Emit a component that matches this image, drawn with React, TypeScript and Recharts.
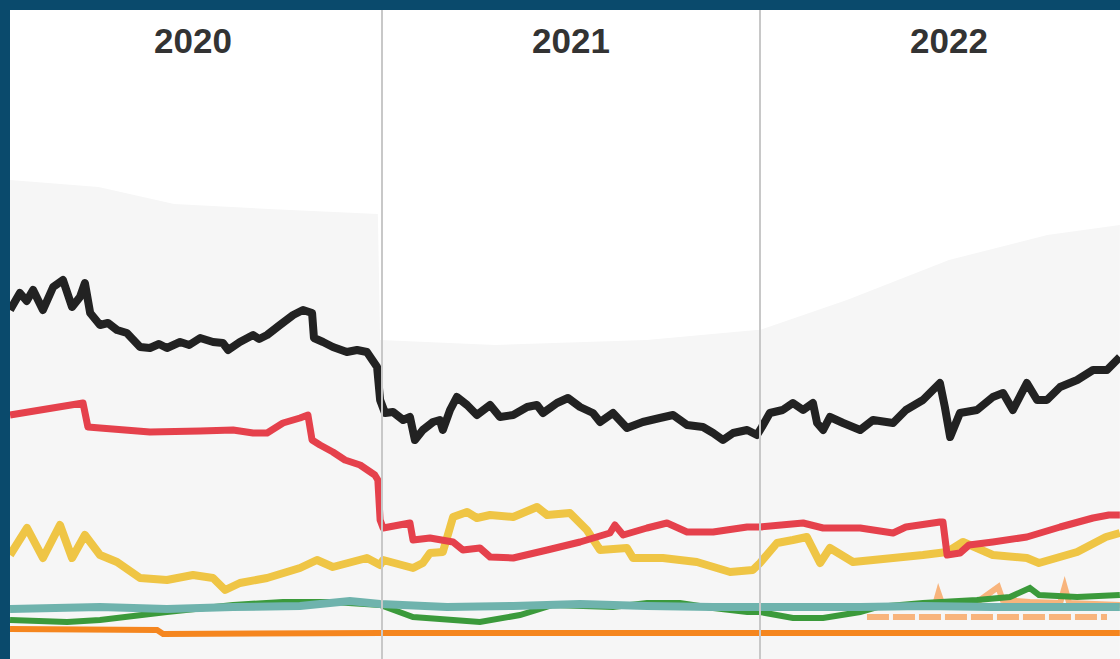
import { Area, ComposedChart, Line, ReferenceArea, ReferenceLine, XAxis, YAxis } from 'recharts';

// [decimal year, index value]
const blackSeries: [number, number][] = [
  [2020.016, 34.9], [2020.042, 36.6], [2020.06, 35.8], [2020.077, 36.9], [2020.103, 34.9], [2020.13, 37.2], [2020.156, 37.9],
  [2020.18, 35.2], [2020.201, 36.2], [2020.214, 37.6], [2020.228, 34.6], [2020.254, 33.4], [2020.275, 33.6], [2020.299, 32.9],
  [2020.325, 32.6], [2020.36, 31.2], [2020.386, 31.1], [2020.41, 31.5], [2020.431, 31.1], [2020.466, 31.7], [2020.49, 31.4], [2020.519, 32.1],
  [2020.553, 31.7], [2020.579, 31.6], [2020.593, 30.9], [2020.624, 31.7], [2020.659, 32.4], [2020.675, 32.0], [2020.696, 32.4],
  [2020.73, 33.4], [2020.765, 34.4], [2020.791, 34.9], [2020.815, 34.6], [2020.82, 32.1], [2020.844, 31.7],
  [2020.87, 31.2], [2020.907, 30.7], [2020.934, 30.9], [2020.96, 30.7], [2020.987, 29.2], [2020.995, 25.9],
  [2021.008, 24.6], [2021.029, 24.7], [2021.056, 23.9], [2021.074, 24.2], [2021.087, 21.9], [2021.108, 22.9],
  [2021.135, 23.7], [2021.153, 23.9], [2021.161, 22.9], [2021.18, 24.9], [2021.198, 26.2], [2021.225, 25.4],
  [2021.251, 24.4], [2021.286, 25.4], [2021.312, 24.2], [2021.347, 24.4], [2021.384, 25.2], [2021.41, 25.4],
  [2021.426, 24.6], [2021.463, 25.6], [2021.492, 26.1], [2021.524, 25.2], [2021.558, 24.6], [2021.577, 23.7],
  [2021.611, 24.6], [2021.648, 23.1], [2021.69, 23.7], [2021.735, 24.1], [2021.77, 24.4], [2021.807, 23.4],
  [2021.849, 23.2], [2021.876, 22.6], [2021.902, 21.9], [2021.929, 22.6], [2021.966, 22.9], [2021.992, 22.4],
  [2022.005, 23.2], [2022.026, 24.6], [2022.06, 24.9], [2022.087, 25.6], [2022.114, 24.9], [2022.14, 25.6], [2022.151, 23.6],
  [2022.167, 22.9], [2022.185, 24.2], [2022.22, 23.6], [2022.265, 22.9], [2022.299, 23.9], [2022.352, 23.6],
  [2022.386, 24.9], [2022.431, 25.9], [2022.476, 27.6], [2022.489, 25.2], [2022.503, 22.2], [2022.529, 24.6],
  [2022.574, 24.9], [2022.616, 26.2], [2022.643, 26.6], [2022.669, 24.9], [2022.706, 27.6], [2022.733, 25.9],
  [2022.759, 25.9], [2022.794, 27.2], [2022.839, 27.9], [2022.881, 28.9], [2022.918, 28.9], [2022.952, 30.2],
];

const redSeries: [number, number][] = [
  [2020.016, 24.4], [2020.209, 25.6], [2020.222, 23.2], [2020.254, 23.1], [2020.386, 22.7], [2020.519, 22.8],
  [2020.606, 22.9], [2020.659, 22.6], [2020.696, 22.6], [2020.738, 23.6], [2020.783, 24.1], [2020.804, 24.4],
  [2020.815, 21.9], [2020.836, 21.4], [2020.87, 20.7], [2020.902, 19.9], [2020.942, 19.4], [2020.981, 18.4],
  [2020.989, 17.9], [2020.995, 13.9], [2021.003, 13.1], [2021.074, 13.6], [2021.082, 11.9], [2021.127, 12.1],
  [2021.188, 11.7], [2021.214, 10.9], [2021.259, 11.1], [2021.286, 10.2], [2021.347, 10.1], [2021.437, 10.9],
  [2021.524, 11.7], [2021.603, 12.6], [2021.616, 13.4], [2021.638, 12.4], [2021.701, 13.1], [2021.754, 13.6],
  [2021.807, 12.7], [2021.876, 12.7], [2021.966, 13.2], [2022.0, 13.2], [2022.114, 13.6], [2022.167, 13.1],
  [2022.265, 13.1], [2022.352, 12.6], [2022.386, 13.2], [2022.476, 13.7], [2022.484, 13.7], [2022.495, 10.4],
  [2022.529, 10.6], [2022.553, 11.4], [2022.616, 11.7], [2022.706, 12.2], [2022.794, 13.2], [2022.881, 14.1],
  [2022.923, 14.4], [2022.952, 14.4],
];

const yellowSeries: [number, number][] = [
  [2020.016, 10.4], [2020.061, 13.1], [2020.103, 10.1], [2020.148, 13.4], [2020.18, 10.1], [2020.214, 12.4],
  [2020.254, 10.4], [2020.299, 9.7], [2020.36, 8.1], [2020.431, 7.9], [2020.5, 8.4], [2020.553, 8.1],
  [2020.585, 6.9], [2020.624, 7.6], [2020.696, 8.1], [2020.783, 9.1], [2020.828, 9.9], [2020.87, 9.2],
  [2020.96, 10.1], [2020.995, 9.4], [2021.003, 9.9], [2021.082, 9.1], [2021.108, 9.6], [2021.127, 10.6],
  [2021.161, 10.7], [2021.188, 14.2], [2021.225, 14.7], [2021.251, 14.1], [2021.286, 14.4], [2021.347, 14.2],
  [2021.41, 15.2], [2021.437, 14.4], [2021.497, 14.6], [2021.542, 12.9], [2021.577, 10.9], [2021.648, 11.1],
  [2021.664, 10.1], [2021.743, 10.1], [2021.833, 9.7], [2021.921, 8.7], [2021.981, 8.9], [2022.0, 9.6],
  [2022.045, 11.6], [2022.087, 11.9], [2022.124, 12.2], [2022.159, 9.6], [2022.185, 11.1], [2022.246, 9.7],
  [2022.352, 10.1], [2022.431, 10.4], [2022.495, 10.7], [2022.537, 11.7], [2022.616, 10.4], [2022.706, 10.1],
  [2022.738, 9.6], [2022.839, 10.7], [2022.915, 12.2], [2022.952, 12.6],
];

const greenSeries: [number, number][] = [
  [2020.016, 3.9], [2020.167, 3.7], [2020.254, 3.9], [2020.431, 4.7], [2020.606, 5.4], [2020.738, 5.7],
  [2020.87, 5.7], [2020.995, 5.4], [2021.082, 4.2], [2021.259, 3.7], [2021.365, 4.4], [2021.452, 5.4],
  [2021.611, 5.2], [2021.701, 5.6], [2021.788, 5.6], [2021.876, 5.1], [2021.966, 4.7], [2022.0, 4.7],
  [2022.087, 4.1], [2022.167, 4.1], [2022.265, 4.7], [2022.31, 5.2], [2022.431, 5.6], [2022.574, 5.9],
  [2022.661, 6.2], [2022.714, 7.1], [2022.738, 6.4], [2022.839, 6.2], [2022.952, 6.4],
];

const tealSeries: [number, number][] = [
  [2020.016, 5.0], [2020.254, 5.2], [2020.431, 5.0], [2020.606, 5.2], [2020.783, 5.3], [2020.915, 5.8],
  [2020.995, 5.5], [2021.172, 5.2], [2021.347, 5.3], [2021.524, 5.5], [2021.701, 5.3], [2021.876, 5.2],
  [2022.053, 5.2], [2022.265, 5.2], [2022.431, 5.3], [2022.616, 5.2], [2022.794, 5.2], [2022.952, 5.2],
];

const orangeSeries: [number, number][] = [
  [2020.016, 3.0], [2020.405, 2.9], [2020.421, 2.5], [2021.0, 2.6], [2022.0, 2.6], [2022.952, 2.6],
];

const lightOrangeLow: [number, number][] = [
  [2022.283, 4.2], [2022.5, 4.2], [2022.7, 4.2], [2022.918, 4.2],
];

const lightOrangeHigh: [number, number][] = [
  [2022.37, 5.2], [2022.463, 5.4], [2022.472, 6.6], [2022.482, 5.5], [2022.571, 5.6], [2022.63, 7.2],
  [2022.642, 5.9], [2022.714, 5.7], [2022.794, 5.6], [2022.806, 7.2], [2022.818, 5.6], [2022.952, 5.4],
];

// upper edge of the grey range band
const bandTop: [number, number][] = [
  [2020.016, 47.9], [2020.25, 47.2], [2020.45, 45.5], [2020.7, 45.0], [2020.989, 44.5], [2020.995, 31.9],
  [2021.3, 31.4], [2021.7, 31.9], [2021.99, 32.9], [2022.0, 32.9], [2022.23, 35.9], [2022.5, 39.9],
  [2022.76, 42.4], [2022.952, 43.4],
];

const years = [2020, 2021, 2022];
const yearBreaks = [2021, 2022];

const rows = (pts: [number, number][]) => pts.map(([t, v]) => ({ t, v }));

const BORDER = '#0a4a6c';

export default function App() {
  return (
    <div style={{ position: 'absolute', left: 0, top: 0, width: 1120, height: 659, overflow: 'hidden', background: '#fff' }}>
      <div style={{ position: 'absolute', left: 4, top: 10 }}>
        <ComposedChart width={1134} height={649} margin={{ top: 0, right: 0, bottom: 0, left: 0 }}>
          <XAxis type="number" dataKey="t" domain={[2020, 2023]} allowDataOverflow hide />
          <YAxis hide type="number" domain={[0, 64.9]} allowDataOverflow />
          <Area data={rows(bandTop)} dataKey="v" type="linear" stroke="none" fill="#f6f6f6" fillOpacity={1} baseValue={0} isAnimationActive={false} />
          {years.map((y) => (
            <ReferenceArea
              key={y}
              x1={y}
              x2={y + 1}
              fill="none"
              fillOpacity={0}
              stroke="none"
              ifOverflow="visible"
              label={{
                value: String(y),
                position: 'insideTop',
                offset: 18,
                fill: '#333',
                fontSize: 35,
                fontWeight: 700,
                fontFamily: 'Liberation Sans, Arial, sans-serif',
              }}
            />
          ))}
          <Line data={rows(lightOrangeLow)} dataKey="v" stroke="#f8b47c" strokeWidth={6} strokeDasharray="22 4" dot={false} isAnimationActive={false} />
          <Line data={rows(lightOrangeHigh)} dataKey="v" stroke="#f8b47c" strokeWidth={6} dot={false} isAnimationActive={false} />
          <Line data={rows(greenSeries)} dataKey="v" stroke="#3b9a3b" strokeWidth={6} dot={false} isAnimationActive={false} />
          <Line data={rows(tealSeries)} dataKey="v" stroke="#6fb3ad" strokeWidth={8} dot={false} isAnimationActive={false} />
          <Line data={rows(orangeSeries)} dataKey="v" stroke="#f5861f" strokeWidth={6} dot={false} isAnimationActive={false} />
          <Line data={rows(yellowSeries)} dataKey="v" stroke="#efc545" strokeWidth={8} strokeLinejoin="round" dot={false} isAnimationActive={false} />
          <Line data={rows(redSeries)} dataKey="v" stroke="#e5414c" strokeWidth={7} strokeLinejoin="round" dot={false} isAnimationActive={false} />
          <Line data={rows(blackSeries)} dataKey="v" stroke="#222" strokeWidth={8} strokeLinejoin="round" dot={false} isAnimationActive={false} />
          {yearBreaks.map((y) => (
            <ReferenceLine key={y} x={y} stroke="#c8c8c8" strokeWidth={2} />
          ))}
        </ComposedChart>
      </div>
      <div style={{ position: 'absolute', left: 0, top: 0, width: 10, height: 659, background: BORDER }} />
      <div style={{ position: 'absolute', left: 0, top: 0, width: 1120, height: 10, background: BORDER }} />
    </div>
  );
}
